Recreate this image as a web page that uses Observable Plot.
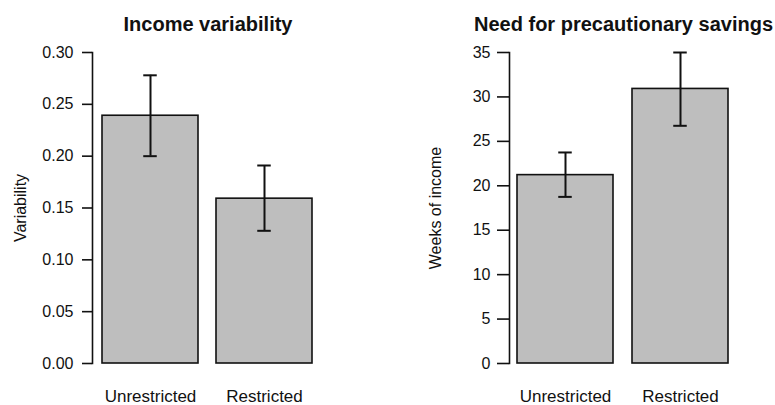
<!DOCTYPE html>
<html>
<head>
<meta charset="utf-8">
<script src="https://cdn.jsdelivr.net/npm/d3@7"></script>
<script src="https://cdn.jsdelivr.net/npm/@observablehq/plot@0.6"></script>
<style>
  html, body { margin: 0; padding: 0; background: #fff; }
  #wrap { display: flex; width: 775px; height: 405px; }
</style>
</head>
<body>
<div id="wrap"></div>
<script>
const categories = ["Unrestricted", "Restricted"];

const variabilityMean = [0.239, 0.159];
const variabilityLow = [0.200, 0.128];
const variabilityHigh = [0.278, 0.191];
const variabilityTicks = [0, 0.05, 0.10, 0.15, 0.20, 0.25, 0.30];

const weeksMean = [21.2, 30.9];
const weeksLow = [18.75, 26.75];
const weeksHigh = [23.75, 35.0];
const weeksTicks = [0, 5, 10, 15, 20, 25, 30, 35];

const titles = ["Income variability", "Need for precautionary savings"];
const yLabels = ["Variability", "Weeks of income"];

function rows(mean, lo, hi) {
  return categories.map((c, i) => ({cat: c, value: mean[i], lo: lo[i], hi: hi[i]}));
}

function panel(cfg) {
  const data = rows(cfg.mean, cfg.lo, cfg.hi);
  const bw = (cfg.xr[1] - cfg.xr[0] - cfg.gap) / 2;
  const inset = (bw - 14) / 2;
  return Plot.plot({
    width: cfg.width,
    height: 405,
    marginLeft: cfg.ml,
    marginRight: cfg.width - cfg.ml - 2 * (cfg.titleX - cfg.ml),
    marginTop: 52,
    marginBottom: 42,
    style: {fontFamily: "'Liberation Sans', Arial, sans-serif", fontSize: "16px", color: "#111", background: "#fff"},
    x: {domain: categories, range: cfg.xr, paddingInner: cfg.gap / (bw + cfg.gap), paddingOuter: 0, align: 0.5, axis: null},
    y: {domain: cfg.domain, axis: null},
    marks: [
      Plot.barY(data, {x: "cat", y: "value", fill: "#bebebe", stroke: "#111", strokeWidth: 1.6}),
      Plot.ruleX(data, {x: "cat", y1: "lo", y2: "hi", stroke: "#111", strokeWidth: 2}),
      Plot.tickY(data, {x: "cat", y: "lo", insetLeft: inset, insetRight: inset, stroke: "#111", strokeWidth: 2}),
      Plot.tickY(data, {x: "cat", y: "hi", insetLeft: inset, insetRight: inset, stroke: "#111", strokeWidth: 2}),
      Plot.axisY({ticks: cfg.ticks, tickFormat: cfg.fmt, tickSize: cfg.tickSize, tickPadding: cfg.tickPad, label: null, fontSize: 16, strokeWidth: 1.6}),
      Plot.axisX({tickSize: 0, tickPadding: 26, label: null, fontSize: 17}),
      Plot.frame({anchor: "left", stroke: "#111", strokeWidth: 1.6}),
      Plot.text([cfg.title], {frameAnchor: "top", lineAnchor: "bottom", dy: -22, fontSize: 20, fontWeight: "bold", fill: "#111"}),
      Plot.text([cfg.ylabel], {frameAnchor: "left", dx: cfg.ylx - cfg.ml, rotate: -90, lineAnchor: "middle", textAnchor: "middle", fontSize: 16, fill: "#111"})
    ]
  });
}

const wrap = document.getElementById("wrap");
wrap.appendChild(panel({
  width: 390, ml: 92, titleX: 207.5, xr: [102, 313], gap: 18,
  mean: variabilityMean, lo: variabilityLow, hi: variabilityHigh,
  domain: [0, 0.30], ticks: variabilityTicks, fmt: d3.format(".2f"),
  tickSize: 10, tickPad: 9, title: titles[0], ylabel: yLabels[0], ylx: 20
}));
wrap.appendChild(panel({
  width: 385, ml: 119, titleX: 233, xr: [127, 339], gap: 19,
  mean: weeksMean, lo: weeksLow, hi: weeksHigh,
  domain: [0, 35], ticks: weeksTicks, fmt: d3.format("d"),
  tickSize: 12, tickPad: 7, title: titles[1], ylabel: yLabels[1], ylx: 45
}));
</script>
</body>
</html>
